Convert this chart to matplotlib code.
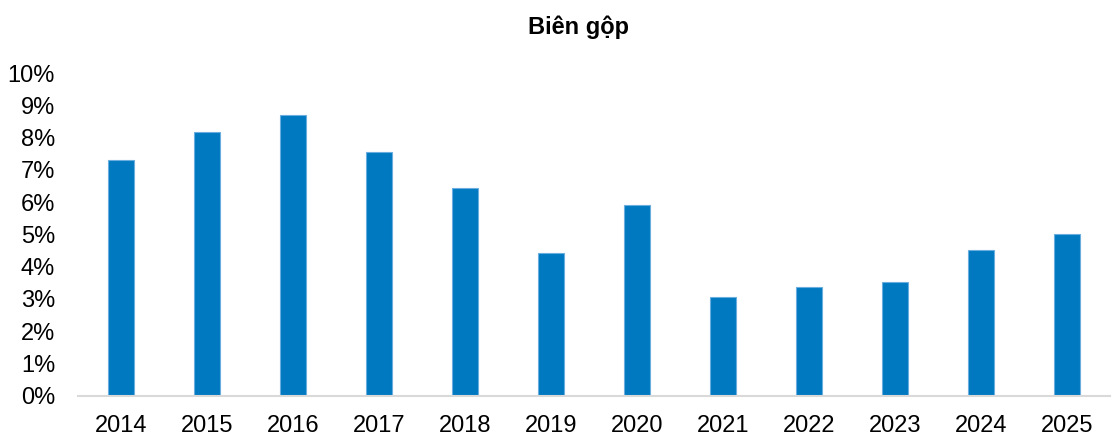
import matplotlib
matplotlib.use('Agg')
from matplotlib import pyplot as plt
import numpy as np

plt.rcParams['font.family'] = ['Liberation Sans', 'DejaVu Sans']

years = ['2014', '2015', '2016', '2017', '2018', '2019',
         '2020', '2021', '2022', '2023', '2024', '2025']
margin = [7.30, 8.16, 8.70, 7.54, 6.44, 4.43, 5.91, 3.04, 3.35, 3.51, 4.51, 5.01]

fig = plt.figure(figsize=(11.14, 4.38), dpi=100)
ax = fig.add_axes([78/1114, 42.5/438, 1032/1114, 322.5/438])

x = np.arange(len(years))
ax.bar(x, margin, width=0.31, color='#0079C1', edgecolor='#6aaee0', linewidth=0.8)

ax.set_xlim(-0.5, len(years) - 0.5)
ax.set_ylim(0, 10)
ax.set_yticks(np.arange(0, 11, 1))
ax.set_yticklabels([f'{v}%' for v in range(11)])
ax.set_xticks(x)
ax.set_xticklabels(years)
ax.tick_params(axis='both', length=0, labelsize=17, colors='black')
ax.tick_params(axis='x', pad=14)
ax.tick_params(axis='y', pad=16.5)

for s in ['top', 'right', 'left']:
    ax.spines[s].set_visible(False)
ax.spines['bottom'].set_color('#d9d9d9')
ax.spines['bottom'].set_linewidth(1.5)

fig.text(0.519, 0.937, 'Biên gộp', ha='center', va='center', fontsize=17, fontweight='bold')

fig.savefig('out.png', dpi=100)
